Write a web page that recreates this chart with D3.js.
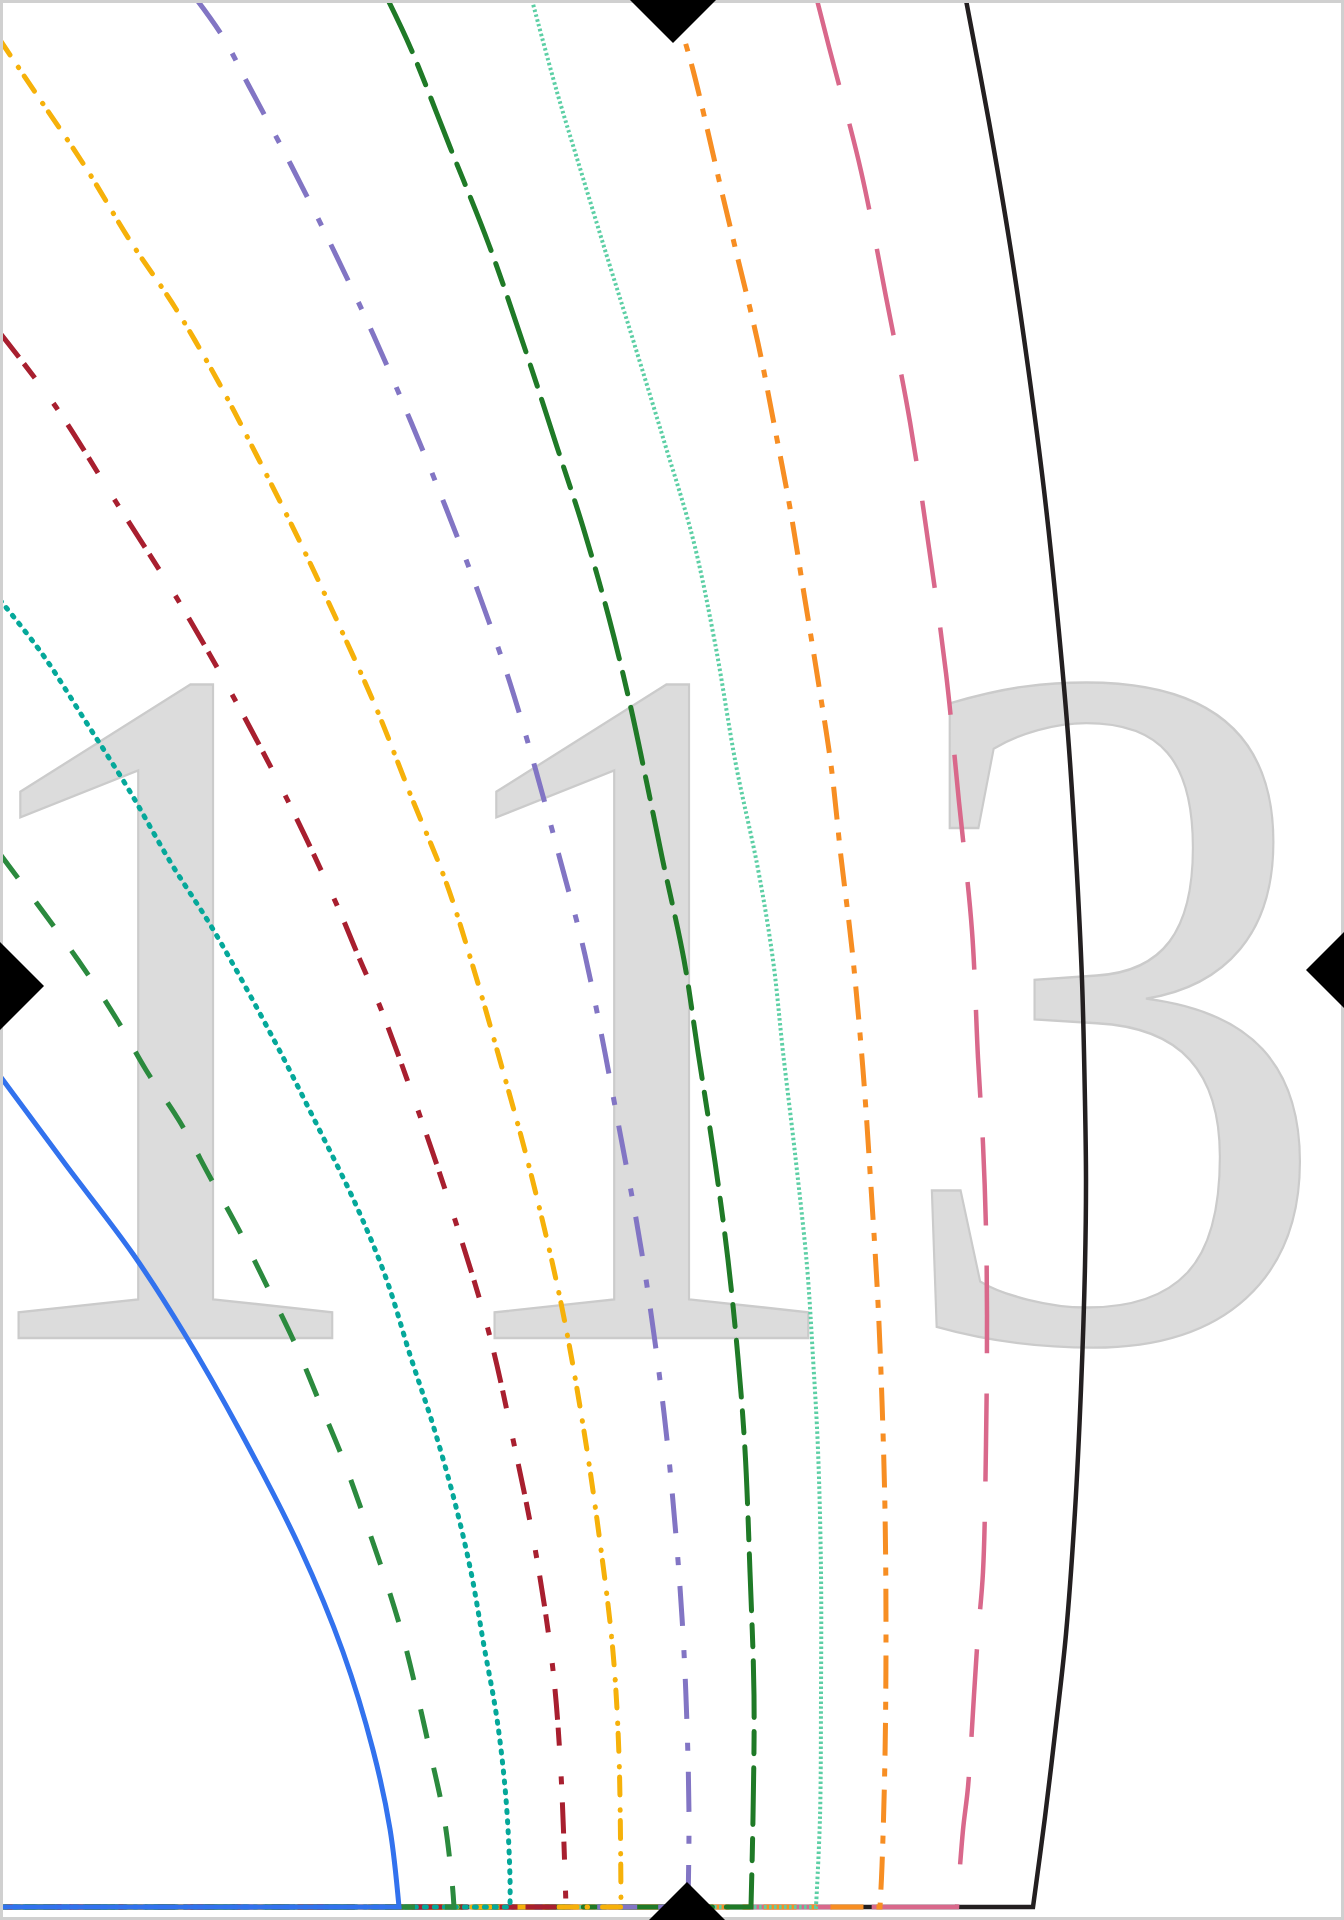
<!DOCTYPE html>
<html>
<head>
<meta charset="utf-8">
<script src="https://cdn.jsdelivr.net/npm/d3@7"></script>
<style>
  html, body { margin: 0; padding: 0; background: #ffffff; }
  svg { display: block; }
</style>
</head>
<body>
<svg id="chart" width="1344" height="1920"></svg>
<script>
// Outline readings for each level, as [x, y] pairs (x to the right, y up from the baseline).
const level1  = [[0,8.31],[0.66,7.42],[1.33,6.53],[1.84,5.74],[2.40,4.76],[3.00,3.59],[3.43,2.55],[3.73,1.57],[3.90,0.78],[3.99,0]];
const level2  = [[0,10.53],[0.78,9.47],[1.16,8.89],[1.46,8.37],[1.80,7.85],[2.10,7.30],[2.40,6.75],[2.68,6.19],[2.96,5.61],[3.19,5.06],[3.43,4.48],[3.64,3.90],[3.84,3.32],[4.03,2.70],[4.18,2.09],[4.31,1.51],[4.44,0.90],[4.52,0.26],[4.54,0]];
const level3  = [[0,13.07],[0.43,12.52],[0.86,11.85],[1.29,11.17],[1.71,10.44],[2.14,9.76],[2.74,8.67],[3.17,7.82],[3.56,7.02],[3.86,6.29],[4.11,5.49],[4.33,4.82],[4.54,4.08],[4.71,3.35],[4.84,2.61],[4.97,1.88],[5.06,1.08],[5.10,0.29],[5.10,0]];
const level4  = [[0,15.74],[0.56,15.00],[1.16,14.05],[1.78,13.07],[2.34,12.09],[2.87,11.08],[3.36,10.04],[3.60,9.47],[3.81,8.98],[4.20,7.91],[4.56,6.84],[4.89,5.74],[5.14,4.63],[5.36,3.53],[5.53,2.37],[5.61,1.33],[5.66,0]];
const level5  = [[0,18.67],[0.39,18.09],[0.86,17.39],[1.29,16.68],[1.76,15.98],[2.19,15.24],[2.57,14.51],[3.00,13.65],[3.39,12.82],[3.77,11.97],[4.11,11.11],[4.46,10.25],[4.71,9.47],[5.01,8.43],[5.31,7.33],[5.61,6.04],[5.83,4.82],[6.00,3.65],[6.13,2.55],[6.19,1.51],[6.21,0]];
const level6  = [[1.97,19.07],[2.23,18.70],[2.49,18.21],[2.91,17.42],[3.34,16.56],[3.73,15.73],[4.11,14.85],[4.46,13.99],[4.80,13.10],[5.10,12.24],[5.36,11.36],[5.61,10.44],[5.85,9.52],[6.21,7.69],[6.43,6.47],[6.64,4.94],[6.76,3.71],[6.83,2.73],[6.87,1.82],[6.89,0.90],[6.88,0]];
const level7  = [[3.88,19.07],[4.11,18.58],[4.50,17.60],[4.89,16.62],[5.27,15.52],[5.57,14.60],[5.83,13.80],[6.09,12.89],[6.30,12.03],[6.47,11.23],[6.62,10.50],[6.84,9.47],[6.98,8.55],[7.15,7.45],[7.28,6.47],[7.38,5.49],[7.45,4.57],[7.50,3.35],[7.54,2.12],[7.53,0.90],[7.51,0]];
const level8  = [[5.32,19.07],[5.57,18.15],[5.83,17.29],[6.09,16.44],[6.34,15.64],[6.64,14.66],[6.93,13.68],[7.15,12.64],[7.36,11.42],[7.58,10.38],[7.73,9.47],[7.83,8.55],[7.96,7.45],[8.07,6.41],[8.13,5.49],[8.18,4.57],[8.21,3.35],[8.21,2.12],[8.20,0.90],[8.16,0]];
const level9  = [[6.72,19.07],[6.80,18.82],[6.93,18.37],[7.23,17.10],[7.36,16.56],[7.58,15.64],[7.75,14.78],[7.90,13.99],[8.05,13.07],[8.18,12.27],[8.31,11.42],[8.41,10.50],[8.52,9.58],[8.63,8.37],[8.71,7.20],[8.78,6.04],[8.82,5.06],[8.85,3.96],[8.86,2.73],[8.85,1.51],[8.82,0.41],[8.80,0]];
const level10 = [[8.17,19.07],[8.29,18.60],[8.61,17.36],[8.86,16.10],[9.10,14.85],[9.29,13.59],[9.46,12.34],[9.59,11.05],[9.72,9.76],[9.78,8.49],[9.83,7.63],[9.86,6.78],[9.87,5.92],[9.86,4.63],[9.83,3.35],[9.78,2.73],[9.74,2.12],[9.68,1.20],[9.63,0.77],[9.57,0]];
const level11 = [[9.66,19.07],[9.89,17.85],[10.10,16.62],[10.28,15.40],[10.44,14.17],[10.57,12.95],[10.68,11.72],[10.76,10.50],[10.82,9.27],[10.85,8.05],[10.86,7.27],[10.85,6.41],[10.81,5.18],[10.75,3.96],[10.66,2.73],[10.56,1.82],[10.45,0.90],[10.33,0]];

const levels = [level1, level2, level3, level4, level5, level6, level7, level8, level9, level10, level11];

// Edge markers: position along the top/bottom edge (x) and left/right edge (y).
const markerTopX = 6.73;
const markerBottomX = 6.87;
const markerLeftY = 9.21;
const markerRightY = 9.37;

// Background figure, one entry per digit
const watermarkDigits = ["1", "1", "3"];

// ---- styles, one per level ----
const strokes = ["#3272ee", "#2b8a3e", "#05a89a", "#a81f2f", "#f6b10a", "#8275c4", "#1f7a27", "#5ccfa5", "#f78e23", "#d9688b", "#231f20"];
const widths  = [5, 5, 5, 5, 5, 5, 5, 4, 5, 4.5, 4.5];
const dashes  = [null, "30,30", "2,8", "31,8,18", "18,15,0.5,10", "40,24,8,21", "57,14,22,14", "2.5,2.5", "33,13,8,13", "88,40", null];
const caps    = ["butt", "butt", "round", "butt", "round", "butt", "round", "butt", "butt", "butt", "butt"];

const W = 1344, H = 1920;
const svg = d3.select("#chart");

const x = d3.scaleLinear().domain([0, 13.44]).range([0, W]);
const y = d3.scaleLinear().domain([0, 19.07]).range([1907, 0]);

// Watermark digits behind everything (each digit centred in its own slot)
const digitCentres = [163, 639, 1112];
const squeeze = 0.9;
svg.append("text")
  .attr("transform", `translate(0,1338) scale(${squeeze},1)`)
  .attr("font-family", "Liberation Serif")
  .attr("font-size", 990)
  .attr("fill", "#dcdcdc")
  .attr("stroke", "#cbcbcb")
  .attr("stroke-width", 2.4)
  .attr("text-anchor", "middle")
  .selectAll("tspan")
  .data(watermarkDigits)
  .join("tspan")
  .attr("x", (d, i) => digitCentres[i] / squeeze)
  .text(d => d);

const line = d3.line()
  .x(d => x(d[0]))
  .y(d => y(d[1]))
  .curve(d3.curveCatmullRom.alpha(0.5));

// Outer levels first so the inner ones sit on top along the baseline
const order = d3.range(levels.length).reverse();
svg.append("g")
  .selectAll("path")
  .data(order)
  .join("path")
  .attr("d", i => line(levels[i]) + "L" + x(0) + "," + y(0))
  .attr("fill", "none")
  .attr("stroke", i => strokes[i])
  .attr("stroke-width", i => widths[i])
  .attr("stroke-dasharray", i => dashes[i])
  .attr("stroke-linecap", i => caps[i])
  .attr("stroke-linejoin", "miter");

// Frame
svg.append("rect")
  .attr("x", 1.5).attr("y", 1.5)
  .attr("width", W - 3).attr("height", H - 3)
  .attr("fill", "none")
  .attr("stroke", "#d0d0d0")
  .attr("stroke-width", 3);

// Edge markers (diamonds)
const diamond = (cx, cy, r) => `M${cx},${cy - r}L${cx + r},${cy}L${cx},${cy + r}L${cx - r},${cy}Z`;
const markers = [
  [x(markerTopX), 0, 43],
  [x(markerBottomX), H + 5, 43],
  [0, y(markerLeftY), 44],
  [W + 5, y(markerRightY), 43]
];
svg.append("g")
  .selectAll("path")
  .data(markers)
  .join("path")
  .attr("d", d => diamond(d[0], d[1], d[2]))
  .attr("fill", "#000000");
</script>
</body>
</html>
